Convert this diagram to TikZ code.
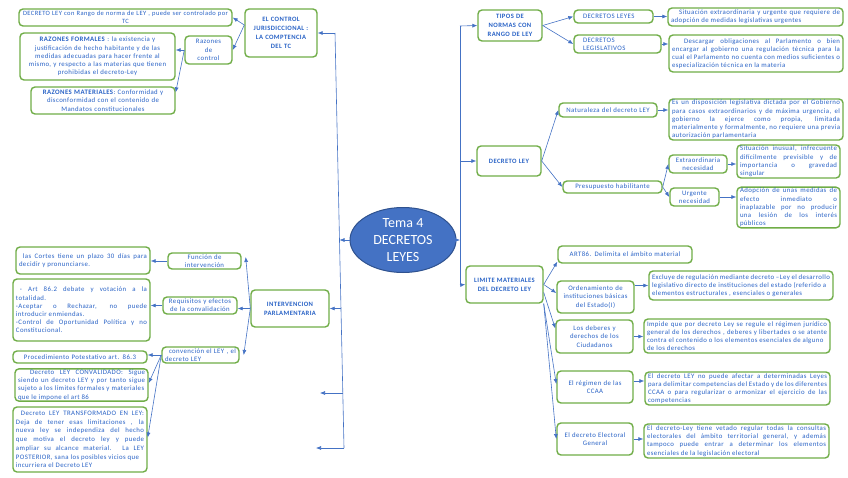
\documentclass[tikz,border=0pt]{standalone}
\usepackage{fontspec}
\setmainfont{Carlito}
\newfontfamily\mapa{Carlito}[LetterSpace=6]
\usetikzlibrary{arrows.meta}
\usetikzlibrary{shapes.geometric}
\definecolor{verde}{HTML}{70AD47}
\definecolor{azul}{HTML}{4472C4}
\definecolor{azultx}{HTML}{2862C6}
\definecolor{azulbd}{HTML}{2F528F}
\hbadness=10000
\hyphenpenalty=10000
\exhyphenpenalty=10000
\tikzset{%
  caja/.style={draw=verde, line width=1.4pt, rounded corners=4pt, fill=white, text=azultx, inner xsep=3pt, inner ysep=1pt, align=justify, font=\mapa\fontsize{6.8}{8.2}\selectfont},%
  cajac/.style={caja, align=center},%
  titulo/.style={caja, align=center, font=\mapa\bfseries\fontsize{6.6}{9}\selectfont},%
  flecha/.style={draw=azul, line width=0.6pt, -{Latex[length=5pt,width=4pt]}},%
  tronco/.style={draw=azul, line width=0.6pt},%
}
\begin{document}
\begin{tikzpicture}[x=1pt, y=-1pt]%
        \useasboundingbox (0,0) rectangle (848,477);%
        \node[ellipse, fill=azul, draw=azulbd, line width=1pt, minimum width=106pt, minimum height=65pt, inner xsep=0pt, inner ysep=-14pt, text=white, align=center, font=\fontsize{14}{16.7}\selectfont] (tema) at (403,240) {Tema 4\\DECRETOS\\LEYES};%
        % control del TC
        \node[titulo, text width=66pt, minimum height=48pt] (control) at (281,33) {EL CONTROL\\JURISDICCIONAL :\\LA COMPTENCIA\\DEL TC};%
        \node[cajac, text width=207pt, minimum height=17pt, font=\mapa\fontsize{6.5}{8}\selectfont] (dlrango) at (125.5,17.5) {DECRETO LEY con Rango de norma de LEY , puede ser controlado por\\TC};%
        \node[cajac, text width=41pt, minimum height=28pt] (razc) at (208.5,50) {Razones\\de\\control};%
        \node[cajac, text width=149pt, minimum height=47pt] (rform) at (97.5,56.5) {\textbf{RAZONES FORMALES} : la existencia y\\justificación de hecho habitante y de las\\medidas adecuadas para hacer frente al\\mismo, y respecto a las materias que tienen\\prohibidas el decreto-Ley};%
        \node[cajac, text width=138pt, minimum height=27pt] (rmat) at (103,100.5) {\textbf{RAZONES MATERIALES}: Conformidad y\\disconformidad con el contenido de\\Mandatos constitucionales};%
        % tipos de normas
        \node[titulo, text width=58pt, minimum height=31pt] (tipos) at (510,25.5) {TIPOS DE\\NORMAS CON\\RANGO DE LEY};%
        \node[caja, align=left, text width=73pt, minimum height=13pt] (dleyes) at (613.5,16.5) {\hspace*{6pt}DECRETOS LEYES};%
        \node[caja, align=left, text width=81pt, minimum height=18pt] (dlegis) at (617.5,44) {\hspace*{6pt}DECRETOS\\\hspace*{6pt}LEGISLATIVOS};%
        \node[caja, text width=169pt, minimum height=18pt] (sitex) at (755.5,17) {\hspace*{8pt}Situación extraordinaria y urgente que requiere de\linebreak adopción de medidas legislativas urgentes};%
        \node[caja, text width=168pt, minimum height=37pt] (desc) at (756,53.5) {\hspace*{12pt}Descargar obligaciones al Parlamento o bien\linebreak encargar al gobierno una regulación técnica para la\linebreak cual el Parlamento no cuenta con medios suficientes o\linebreak especialización técnica en la materia};%
        % decreto ley
        \node[titulo, text width=58pt, minimum height=30pt] (dley) at (509,161) {DECRETO LEY};%
        \node[cajac, text width=92pt, minimum height=14pt] (natu) at (608,110) {Naturaleza del decreto LEY};%
        \node[caja, text width=168pt, minimum height=41pt] (esun) at (756,119.5) {Es un disposición legislativa dictada por el Gobierno\linebreak para casos extraordinarios y de máxima urgencia, el\linebreak gobierno la ejerce como propia, limitada\linebreak materialmente y formalmente, no requiere una previa\linebreak autorización parlamentaria};%
        \node[cajac, text width=93pt, minimum height=12pt] (presu) at (612.5,187) {Presupuesto habilitante};%
        \node[cajac, text width=52pt, minimum height=18pt] (extra) at (698,164) {Extraordinaria\\necesidad};%
        \node[cajac, text width=43pt, minimum height=18pt] (urge) at (694.5,197) {Urgente\\necesidad};%
        \node[caja, text width=97pt, minimum height=33pt] (situ) at (788.5,161.5) {Situación inusual, infrecuente\linebreak difícilmente previsible y de\linebreak importancia o gravedad\linebreak singular};%
        \node[caja, text width=97pt, minimum height=39pt] (adop) at (788.5,207.5) {Adopción de unas medidas de\linebreak efecto inmediato o\linebreak inaplazable por no producir\linebreak una lesión de los interés\linebreak públicos};%
        % limites materiales
        \node[titulo, text width=71pt, minimum height=37pt] (limite) at (504.5,284.5) {LIMITE MATERIALES\\DEL DECRETO LEY};%
        \node[cajac, text width=128pt, minimum height=17pt] (art86) at (625,254.5) {ART86. Delimita el ámbito material};%
        \node[cajac, text width=71pt, minimum height=32pt] (orden) at (595.5,297) {Ordenamiento de\\instituciones básicas\\del Estado(I)};%
        \node[caja, text width=178pt, minimum height=29pt] (excl) at (741,285.5) {Excluye de regulación mediante decreto –Ley el desarrollo\linebreak legislativo directo de instituciones del estado (referido a\\elementos estructurales , esenciales o generales};%
        \node[cajac, text width=71pt, minimum height=33pt] (debe) at (594.5,336.5) {Los deberes y\\derechos de los\\Ciudadanos};%
        \node[caja, text width=180pt, minimum height=34pt] (impi) at (737,336) {Impide que por decreto Ley se regule el régimen jurídico\linebreak general de los derechos , deberes y libertades o se atente\linebreak contra el contenido o los elementos esenciales de alguno\\de los derechos};%
        \node[cajac, text width=70pt, minimum height=32pt] (ccaa) at (595,387) {El régimen de las\\CCAA};%
        \node[caja, text width=179pt, minimum height=33pt] (afec) at (737.5,388.5) {El decreto LEY no puede afectar a determinadas Leyes\linebreak para delimitar competencias del Estado y de los diferentes\linebreak CCAA o para regularizar o armonizar el ejercicio de las\linebreak competencias};%
        \node[cajac, text width=70pt, minimum height=32pt] (elec) at (595,439) {El decreto Electoral\\General};%
        \node[caja, text width=179pt, minimum height=34pt] (veta) at (736.5,441) {El decreto-Ley tiene vetado regular todas la consultas\linebreak electorales del ámbito territorial general, y además\linebreak tampoco puede entrar a determinar los elementos\linebreak esenciales de la legislación electoral};%
        % intervencion parlamentaria
        \node[titulo, text width=72pt, minimum height=37pt] (inter) at (290,308.5) {INTERVENCION\\PARLAMENTARIA};%
        \node[cajac, text width=67pt, minimum height=16pt] (func) at (204.5,261) {Función de\\intervención};%
        \node[caja, text width=128pt, minimum height=27pt] (cortes) at (83,260.5) {\hspace*{4pt}las Cortes tiene un plazo 30 días para\linebreak decidir y pronunciarse.};%
        \node[cajac, text width=68pt, minimum height=17pt] (requ) at (200,305.5) {Requisitos y efectos\\de la convalidación};%
        \node[caja, text width=131pt, minimum height=62pt] (artd) at (81.5,310) {\hspace*{4pt}- Art 86.2 debate y votación a la\linebreak totalidad.\\-Aceptar o Rechazar, no puede\linebreak introducir enmiendas.\\-Control de Oportunidad Política y no\linebreak Constitucional.};%
        \node[caja, align=left, text width=71pt, minimum height=16pt] (conv) at (200.5,355) {\hspace*{4pt}convención el LEY , el\\decreto LEY};%
        \node[caja, align=left, text width=128pt, minimum height=12pt] (proc) at (80,357) {\hspace*{8pt}Procedimiento Potestativo art. 86.3};%
        \node[caja, text width=127pt, minimum height=32pt] (convd) at (81.5,385) {\hspace*{12pt}Decreto LEY CONVALIDADO: Sigue\linebreak siendo un decreto LEY y por tanto sigue\linebreak sujeto a los límites formales y materiales\\que le impone el art 86};%
        \node[caja, text width=128pt, minimum height=65pt, font=\mapa\fontsize{6.8}{8.7}\selectfont] (trans) at (80,439.5) {\hspace*{5pt}Decreto LEY TRANSFORMADO EN LEY:\linebreak Deja de tener esas limitaciones , la\linebreak nueva ley se independiza del hecho\linebreak que motiva el decreto ley y puede\linebreak ampliar su alcance material. La LEY\linebreak POSTERIOR, sana los posibles vicios que\\incurriera el Decreto LEY};%
        % troncos
        \coordinate (ti1) at (335,33);%
        \coordinate (ti2) at (339.5,240);%
        \coordinate (ti3) at (341,308.5);%
        \coordinate (ti4) at (342.8,393);%
        \coordinate (ti5) at (344,448);%
        \coordinate (suelto1) at (320,393);%
        \coordinate (suelto2) at (316,448);%
        \coordinate (td1) at (460,26);%
        \coordinate (td2) at (460,161);%
        \coordinate (td3) at (460,240);%
        \coordinate (td4) at (460,285);%
        \draw[tronco] (ti1) -- (ti5);%
        \draw[tronco] (td1) -- (td4);%
        \draw[flecha] (tema.west) -- (ti2);%
        \draw[flecha] (tema.east) -- (td3);%
        \draw[flecha] (ti1) -- (control.east);%
        \draw[flecha] (ti3) -- (inter.east);%
        \draw[flecha] (ti4) -- (suelto1);%
        \draw[flecha] (ti5) -- (suelto2);%
        \draw[flecha] (td1) -- (tipos.west);%
        \draw[flecha] (td2) -- (dley.west);%
        \draw[flecha] (td4) -- (limite.west);%
        % ramas
        \draw[flecha] ([yshift=8pt]control.west) -- (dlrango.east);%
        \draw[flecha] ([yshift=8pt]control.west) -- (razc.east);%
        \draw[flecha] (razc.west) -- (razc.west -| rform.east);%
        \draw[flecha] (razc.west) -- ([yshift=-6pt]rmat.north east);%
        \draw[flecha] (tipos.east) -- (dleyes.west);%
        \draw[flecha] (tipos.east) -- (dlegis.west);%
        \draw[flecha] (dleyes.east) -- (dleyes.east -| sitex.west);%
        \draw[flecha] (dlegis.east) -- (dlegis.east -| desc.west);%
        \draw[flecha] (dley.east) -- (natu.west);%
        \draw[flecha] (dley.east) -- (presu.west);%
        \draw[flecha] (natu.east) -- (natu.east -| esun.west);%
        \draw[flecha] (presu.east) -- (extra.west);%
        \draw[flecha] (presu.east) -- (urge.west);%
        \draw[flecha] (extra.east) -- (extra.east -| situ.west);%
        \draw[flecha] (urge.east) -- (urge.east -| adop.west);%
        \draw[flecha] (limite.east) -- ([yshift=2pt]art86.south west);%
        \draw[flecha] (limite.east) -- ([yshift=4pt]orden.west);%
        \draw[flecha] ([yshift=-8pt]limite.east) -- ([yshift=8pt]debe.west);%
        \draw[flecha] (limite.south east) -- ([yshift=3pt]ccaa.west);%
        \draw[flecha] (limite.south east) -- (elec.west);%
        \draw[flecha] (orden.east |- excl.west) -- (excl.west);%
        \draw[flecha] (debe.east) -- (debe.east -| impi.west);%
        \draw[flecha] ([yshift=6pt]ccaa.east) -- ([yshift=6pt]ccaa.east -| afec.west);%
        \draw[flecha] (elec.east) -- (elec.east -| veta.west);%
        \draw[flecha] (inter.west) -- ([xshift=4pt,yshift=4pt]func.east);%
        \draw[flecha] (inter.west) -- (inter.west -| requ.east);%
        \draw[flecha] (inter.west) -- ([xshift=4pt]conv.east);%
        \draw[flecha] (func.west) -- (func.west -| cortes.east);%
        \draw[flecha] (requ.west) -- (requ.west -| artd.east);%
        \draw[flecha] (conv.west) -- (conv.west -| proc.east);%
        \draw[flecha] (conv.west) -- ([yshift=2pt]convd.east);%
        \draw[flecha] (conv.west) -- ([yshift=2pt]trans.east);%
      \end{tikzpicture}
\end{document}
